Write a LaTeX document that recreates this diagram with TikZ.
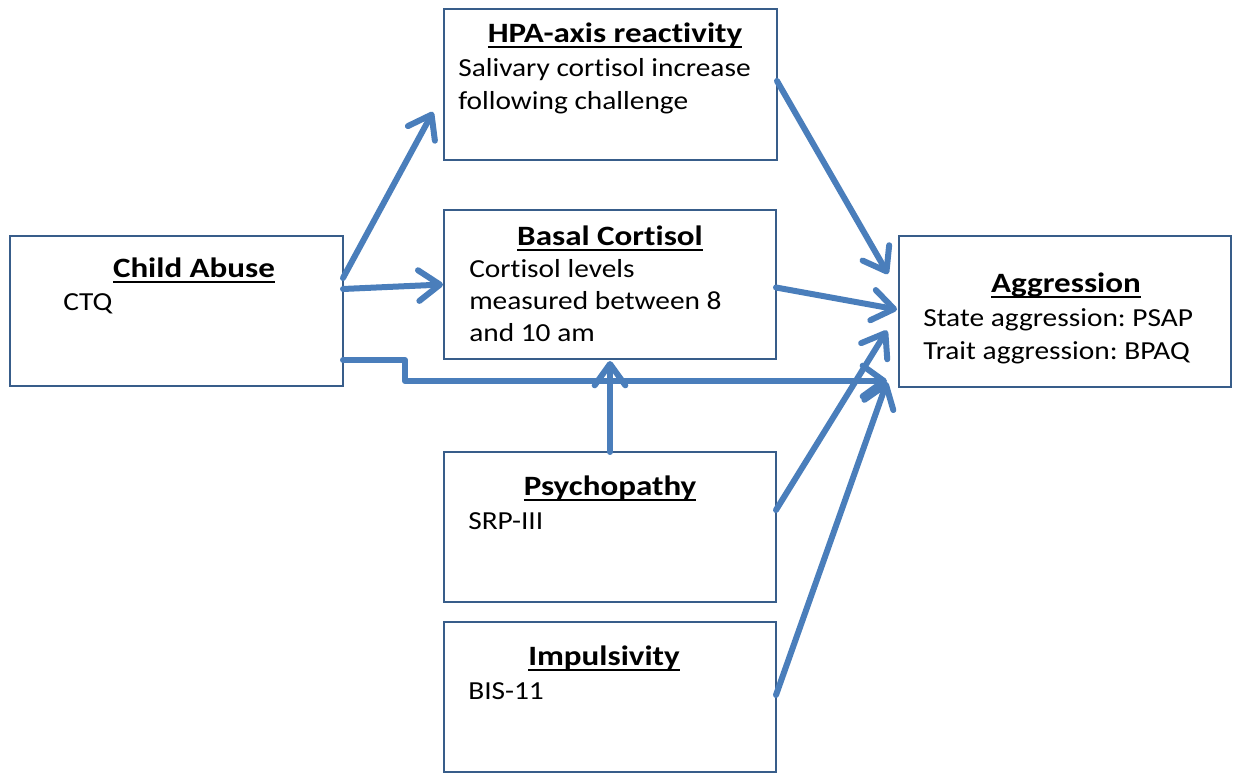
\documentclass[tikz,border=0pt]{standalone}
\usepackage{fontspec}
\setmainfont{Carlito}[FakeStretch=1.13, Ligatures=NoCommon]
\newfontfamily\ttlfont{Carlito}[FakeStretch=1.18, Ligatures=NoCommon]
\frenchspacing
\usetikzlibrary{arrows.meta,calc}
\definecolor{arrowblue}{HTML}{4A7EBB}
\definecolor{boxblue}{HTML}{385D8A}
\newcommand\myul[1]{\setbox0\hbox{\ttlfont\bfseries #1}\rlap{\rule[-3.8pt]{\wd0}{1.5pt}}\box0}
\newcommand\mybox[5]{\node[box, minimum width={(#4-#2)*0.75pt}, minimum height={(#5-#3)*0.75pt}] (#1) at ({(#2+#4)/2},{(#3+#5)/2}) {};}
\begin{document}
\begin{tikzpicture}[x=0.75pt,y=-0.75pt,
  box/.style={draw=boxblue, line width=1.6pt, fill=white, inner sep=0pt, outer sep=0pt, rectangle},
  ttl/.style={anchor=base, inner sep=0pt, font=\fontsize{21}{25}\selectfont},
  txt/.style={anchor=base west, inner sep=0pt, font=\fontsize{19.5}{24}\selectfont},
  arr/.style={draw=arrowblue, line width=4.5pt, line cap=round, line join=round,
    -{Straight Barb[length=16pt,width=23pt,round]}}]
\useasboundingbox (0,0) rectangle (1233,773);
% boxes
\mybox{ca}{10}{236}{343}{386}
\mybox{hpa}{444}{9}{777}{160}
\mybox{bc}{444}{210}{776}{359}
\mybox{agg}{899}{236}{1231}{387}
\mybox{psy}{444}{452}{776}{602}
\mybox{imp}{444}{622}{776}{772}
% texts
\node[ttl] (caT) at (194,278) {\myul{Child Abuse}};
\node[txt] (caL1) at (63,311) {CTQ};
\node[ttl] (hpaT) at (615,43) {\myul{HPA-axis reactivity}};
\node[txt] (hpaL1) at (458,77) {Salivary cortisol increase};
\node[txt] (hpaL2) at (458,110) {following challenge};
\node[ttl] (bcT) at (610,246) {\myul{Basal Cortisol}};
\node[txt] (bcL1) at (469,278) {Cortisol levels};
\node[txt] (bcL2) at (469,310) {measured between 8};
\node[txt] (bcL3) at (469,342) {and 10 am};
\node[ttl] (aggT) at (1066,293) {\myul{Aggression}};
\node[txt] (aggL1) at (923,327) {State aggression: PSAP};
\node[txt] (aggL2) at (923,360) {Trait aggression: BPAQ};
\node[ttl] (psyT) at (610,496) {\myul{Psychopathy}};
\node[txt] (psyL1) at (468,530) {SRP-III};
\node[ttl] (impT) at (604,666) {\myul{Impulsivity}};
\node[txt] (impL1) at (468,700) {BIS-11};
% connectors
\draw[arr] ($(ca.north east)+(0,42)$) -- ($(hpa.south west)+(-11,-48)$);
\draw[arr] ($(ca.north east)+(0,53)$) -- ($(bc.west)+(-1,0)$);
\draw[arr] ($(ca.north east)+(0,124)$) -- ++(62,0) |- ($(agg.south west)+(-12,-6)$);
\draw[arr] ($(hpa.north east)+(0,72)$) -- ($(agg.north west)+(-11,38)$);
\draw[arr] ($(bc.east)+(0,3)$) -- ($(agg.west)+(-2,-2)$);
\draw[arr] ($(psy.north east)+(0,58)$) -- ($(agg.west)+(-12,19)$);
\draw[arr] ($(imp.north east)+(0,73)$) -- ($(agg.south west)+(-12,-5)$);
\draw[arr] (psy.north) -- ($(bc.south)+(0,2)$);
\end{tikzpicture}
\end{document}
